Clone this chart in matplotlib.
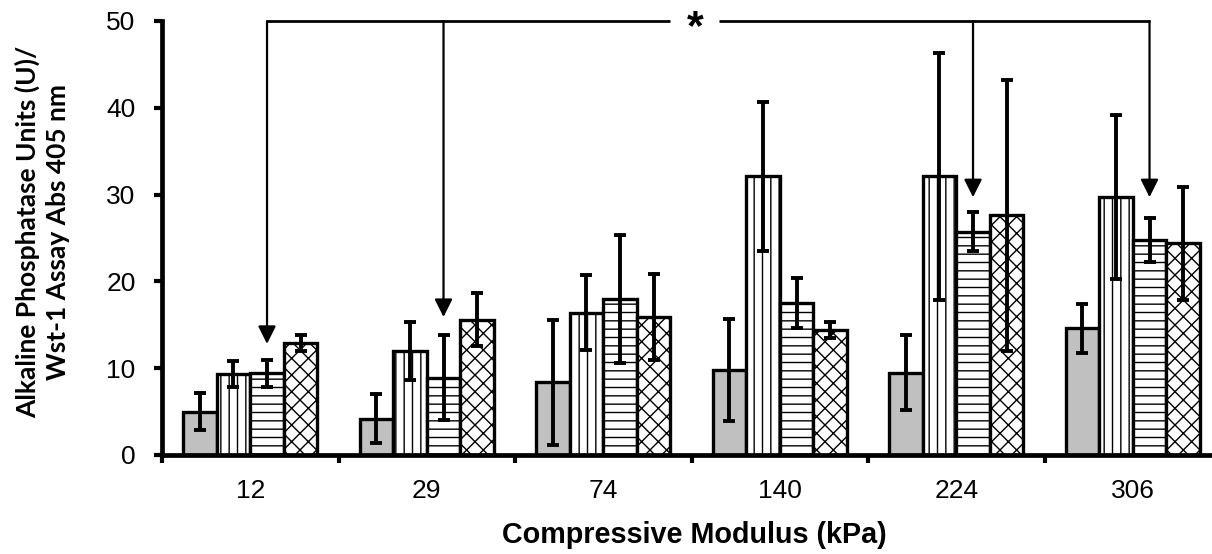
import matplotlib
matplotlib.use("Agg")
import matplotlib.pyplot as plt
import numpy as np

categories = ["12", "29", "74", "140", "224", "306"]
gray_vals = [5.0, 4.2, 8.4, 9.8, 9.5, 14.6]
gray_err = [2.1, 2.85, 7.2, 5.9, 4.35, 2.8]
vert_vals = [9.3, 12.0, 16.4, 32.1, 32.1, 29.7]
vert_err = [1.5, 3.35, 4.3, 8.6, 14.2, 9.45]
horiz_vals = [9.4, 8.9, 18.0, 17.5, 25.7, 24.8]
horiz_err = [1.6, 4.9, 7.4, 2.9, 2.25, 2.55]
cross_vals = [12.9, 15.6, 15.9, 14.4, 27.6, 24.4]
cross_err = [0.9, 3.05, 4.9, 0.9, 15.6, 6.5]

arrow_groups = [0, 1, 4, 5]
arrow_tips = [12.8, 15.9, 29.7, 29.7]
bracket_level = 50

plt.rcParams['hatch.linewidth'] = 1.0
plt.rcParams['font.family'] = ['Liberation Sans', 'DejaVu Sans']

W, H = 1212, 554
fig = plt.figure(figsize=(W / 100, H / 100), dpi=100)
ax = fig.add_axes([162 / W, 1 - 455 / H, 6 * 176.5 / W, (455 - 21) / H])

x = np.arange(len(categories))
w = 0.19
series = [
    (gray_vals, gray_err, "#c0c0c0", ""),
    (vert_vals, vert_err, "white", "||"),
    (horiz_vals, horiz_err, "white", "--"),
    (cross_vals, cross_err, "white", "xx"),
]
lw = 2.4
for i, (vals, errs, fc, hatch) in enumerate(series):
    pos = x + (i - 1.5) * w
    ax.bar(pos, vals, w, color=fc, edgecolor="black", linewidth=lw, hatch=hatch, zorder=2)
    ax.errorbar(pos, vals, yerr=errs, fmt="none", ecolor="black", elinewidth=2.8,
                capsize=4, capthick=2.8, zorder=3)

ax.set_xlim(-0.5, 5.5)
ax.set_ylim(0, 50)
ax.set_yticks([0, 10, 20, 30, 40, 50])
ax.set_xticks(x)
ax.set_xticklabels(categories)
ax.set_xticks(np.arange(-0.5, 6.0, 1.0), minor=True)
ax.tick_params(axis="x", which="major", length=0, pad=17, labelsize=19)
ax.tick_params(axis="x", which="minor", length=6, width=3, direction="out")
ax.tick_params(axis="y", length=6, width=3, labelsize=19, pad=13)
for s in ["top", "right"]:
    ax.spines[s].set_visible(False)
for s in ["left", "bottom"]:
    ax.spines[s].set_linewidth(3.4)
    ax.spines[s].set_capstyle("projecting")

fig.text(694 / W, 1 - 535 / H, "Compressive Modulus (kPa)", ha="center", va="center",
         fontsize=20.7, fontweight="bold")
fig.text(42 / W, 1 - 232 / H, "Alkaline Phosphatase Units (U)/\nWst-1 Assay Abs 405 nm",
         ha="center", va="center", rotation=90, multialignment="center",
         fontsize=19, fontweight="bold", family=["Lato", "DejaVu Sans"], linespacing=1.3)

# significance bracket
ax_x = [g + 0.5 * w for g in arrow_groups]
gap_l, gap_r, star_x = 2.378, 2.656, 2.52
ax.plot([ax_x[0], gap_l], [bracket_level, bracket_level], color="black", lw=2.0, clip_on=False, zorder=4,
        solid_capstyle="butt")
ax.plot([gap_r, ax_x[-1]], [bracket_level, bracket_level], color="black", lw=2.0, clip_on=False, zorder=4,
        solid_capstyle="butt")
ax.annotate("*", xy=(star_x, bracket_level), xytext=(0, -13), textcoords="offset points",
            ha="center", va="baseline", fontsize=31, fontweight="bold", annotation_clip=False)
for xa, tip in zip(ax_x, arrow_tips):
    ax.annotate("", xy=(xa, tip), xytext=(xa, bracket_level),
                arrowprops=dict(arrowstyle="-|>,head_width=0.3,head_length=0.6", lw=1.6, color="black",
                                shrinkA=0, shrinkB=0, mutation_scale=18),
                annotation_clip=False, zorder=4)

fig.savefig("out.png", dpi=100)
